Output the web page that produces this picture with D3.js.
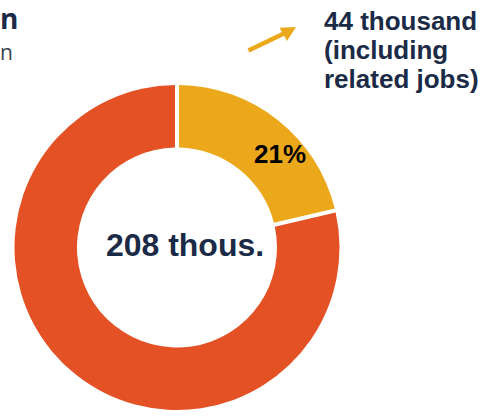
<!DOCTYPE html>
<html>
<head>
<meta charset="utf-8">
<script src="https://cdn.jsdelivr.net/npm/d3@7"></script>
<style>
  html, body { margin: 0; padding: 0; background: #ffffff; }
  svg { display: block; }
</style>
</head>
<body>
<svg id="chart" width="484" height="419"></svg>
<script>
// Data
const categories = ["Related jobs", "Other jobs"];
const values = [44, 164];          // thousand jobs
const colors = ["#ECA81B", "#E35125"];
const totalLabel = "208 thous.";
const calloutLines = ["44 thousand", "(including", "related jobs)"];
const leftTitleFragments = ["n", "n"];

const W = 484, H = 419;
const svg = d3.select("#chart");
const navy = "#1B2B47";

const cx = 177, cy = 247.5;
const rOuter = 162.5, rInner = 100;

const pie = d3.pie().sort(null).value(d => d).padAngle(0.02);
const arc = d3.arc().innerRadius(rInner).outerRadius(rOuter).padRadius(200);

const g = svg.append("g").attr("transform", `translate(${cx},${cy})`);
const arcs = pie(values);
g.selectAll("path.slice")
  .data(arcs)
  .join("path")
  .attr("class", "slice")
  .attr("d", arc)
  .attr("fill", (d, i) => colors[i]);

// percentage label inside the yellow slice
const total = d3.sum(values);
const pct = Math.round(values[0] / total * 100) + "%";
g.append("text")
  .attr("x", 103)
  .attr("y", -84.5)
  .attr("text-anchor", "middle")
  .attr("font-family", "Liberation Sans, Arial, sans-serif")
  .attr("font-weight", "bold")
  .attr("font-size", 26)
  .attr("fill", "#000000")
  .text(pct);

// centre total
g.append("text")
  .attr("x", 8)
  .attr("y", 8.5)
  .attr("text-anchor", "middle")
  .attr("font-family", "Liberation Sans, Arial, sans-serif")
  .attr("font-weight", "bold")
  .attr("font-size", 32)
  .attr("fill", navy)
  .text(totalLabel);

// callout text
const callout = svg.append("text")
  .attr("font-family", "Liberation Sans, Arial, sans-serif")
  .attr("font-weight", "bold")
  .attr("font-size", 26)
  .attr("fill", navy);
calloutLines.forEach((t, i) => {
  callout.append("tspan").attr("x", 324).attr("y", 30 + i * 29.2).text(t);
});

// arrow
const arrowColor = "#ECA81B";
svg.append("line")
  .attr("x1", 248.5).attr("y1", 50.5)
  .attr("x2", 286).attr("y2", 32.5)
  .attr("stroke", arrowColor)
  .attr("stroke-width", 4.5);
svg.append("path")
  .attr("d", "M296,27 L279.5,27.8 L287,41 Z")
  .attr("fill", arrowColor);

// fragments of the left title (kept fully inside the frame)
svg.append("text")
  .attr("x", 0).attr("y", 29)
  .attr("font-family", "Open Sans, sans-serif")
  .attr("font-weight", "bold")
  .attr("font-size", 28)
  .attr("fill", navy)
  .text(leftTitleFragments[0]);
svg.append("text")
  .attr("x", 0).attr("y", 60)
  .attr("font-family", "Open Sans, sans-serif")
  .attr("font-size", 21)
  .attr("fill", "#3A4352")
  .text(leftTitleFragments[1]);
</script>
</body>
</html>
